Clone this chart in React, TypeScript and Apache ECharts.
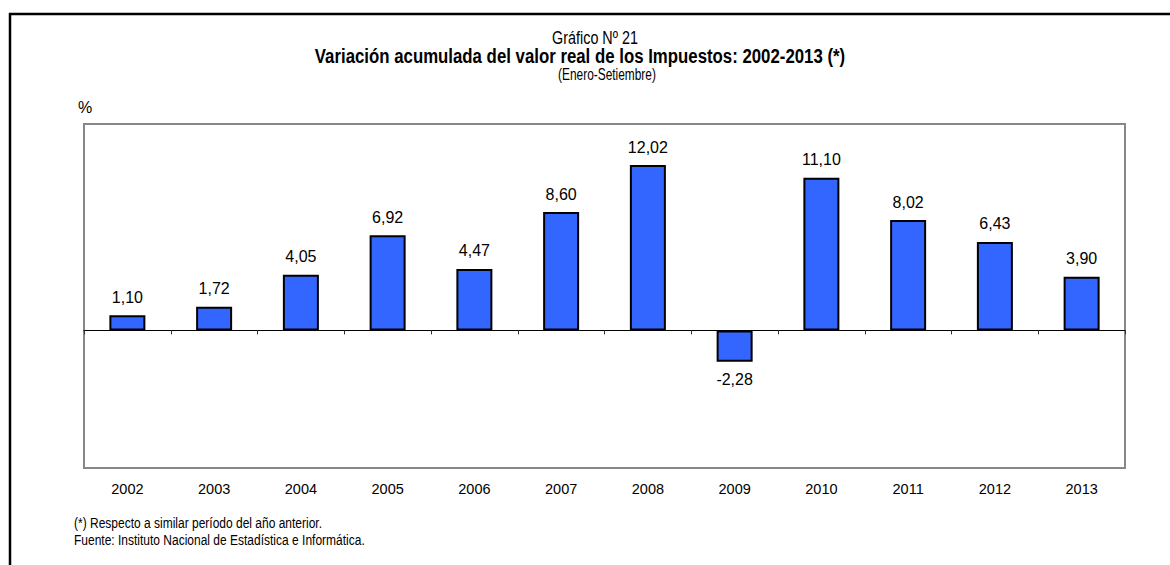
import React, { useEffect, useRef } from "react";
import * as echarts from "echarts";

const years = ["2002", "2003", "2004", "2005", "2006", "2007", "2008", "2009", "2010", "2011", "2012", "2013"];
const values = [1.1, 1.72, 4.05, 6.92, 4.47, 8.6, 12.02, -2.28, 11.1, 8.02, 6.43, 3.9];

const regular = "'Liberation Sans', Arial, sans-serif";

export default function App() {
  const ref = useRef<HTMLDivElement>(null);
  useEffect(() => {
    if (!ref.current) return;
    const chart = echarts.init(ref.current, undefined, { renderer: "svg" });
    const narrowText = (
      text: string,
      x: number,
      y: number,
      size: number,
      align: string,
      scaleX: number,
      bold = false
    ) => ({
      type: "text",
      x,
      y,
      scaleX,
      style: {
        text,
        font: `${bold ? "bold " : ""}${size}px ${regular}`,
        fill: "#000",
        align,
        verticalAlign: "middle",
      },
    });
    chart.setOption({
      animation: false,
      backgroundColor: "#ffffff",
      grid: {
        left: 84,
        right: 45,
        top: 124,
        bottom: 97,
        show: true,
        borderColor: "#888888",
        borderWidth: 2,
        backgroundColor: "transparent",
      },
      xAxis: [
        {
          type: "category",
          data: years,
          position: "bottom",
          boundaryGap: true,
          axisLine: { show: true, onZero: true, lineStyle: { color: "#000000", width: 1 } },
          axisTick: { show: true, length: 4, lineStyle: { color: "#333333", width: 1 } },
          axisLabel: { show: false },
          splitLine: { show: false },
        },
        {
          type: "category",
          data: years,
          position: "bottom",
          axisLine: { show: false, onZero: false },
          axisTick: { show: false },
          axisLabel: { show: true, margin: 13, fontFamily: regular, fontSize: 14.5, color: "#000000" },
          splitLine: { show: false },
        },
      ],
      yAxis: {
        type: "value",
        min: -10,
        max: 15,
        axisLine: { show: false },
        axisTick: { show: false },
        axisLabel: { show: false },
        splitLine: { show: false },
      },
      series: [
        {
          type: "bar",
          xAxisIndex: 0,
          barWidth: 36,
          data: values.map((v) => ({
            value: v,
            label: { position: v < 0 ? "bottom" : "top" },
          })),
          itemStyle: { color: "#3366FF", borderColor: "#000000", borderWidth: 2 },
          label: {
            show: true,
            distance: 10,
            fontFamily: regular,
            fontSize: 16,
            color: "#000000",
            formatter: (p: any) => Number(p.value).toFixed(2).replace(".", ","),
          },
        },
      ],
      graphic: [
        { type: "line", shape: { x1: 9, y1: 14, x2: 1170, y2: 14 }, style: { stroke: "#000", lineWidth: 2.5 } },
        { type: "line", shape: { x1: 10, y1: 13, x2: 10, y2: 565 }, style: { stroke: "#000", lineWidth: 2.5 } },
        narrowText("Gráfico Nº 21", 595, 38, 17.5, "center", 0.82),
        narrowText("Variación acumulada del valor real de los Impuestos: 2002-2013 (*)", 580, 56, 20.5, "center", 0.82, true),
        narrowText("(Enero-Setiembre)", 607, 74, 17, "center", 0.7),
        {
          type: "text",
          x: 78,
          y: 107,
          style: { text: "%", font: `16px ${regular}`, fill: "#000", align: "left", verticalAlign: "middle" },
        },
        narrowText("(*) Respecto a similar período del año anterior.", 74, 523, 15, "left", 0.8),
        narrowText("Fuente: Instituto Nacional de Estadística e Informática.", 74, 540, 15, "left", 0.8),
      ],
    });
    return () => chart.dispose();
  }, []);
  return <div ref={ref} style={{ position: "fixed", left: 0, top: 0, width: 1170, height: 565 }} />;
}
